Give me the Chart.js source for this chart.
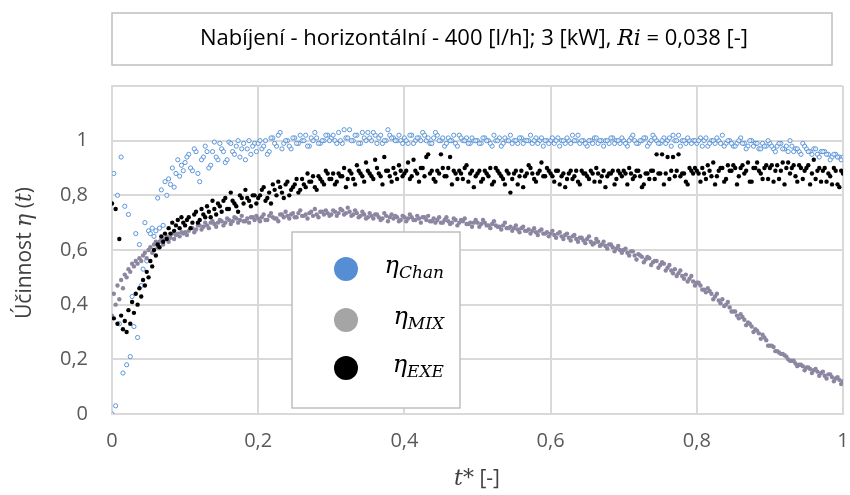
<!DOCTYPE html>
<html>
<head>
<meta charset="utf-8">
<script src="https://cdn.jsdelivr.net/npm/chart.js@4.4.1/dist/chart.umd.min.js"></script>
<style>
  body { margin: 0; background: #fff; }
</style>
</head>
<body>
<canvas id="chart" width="850" height="495"></canvas>
<script>
// t* values (finer step at the start where the data jumps around)
const tStar = [
  0, 0.0025, 0.005, 0.0075, 0.01, 0.0125, 0.015, 0.0175, 0.02, 0.0225,
  0.025, 0.0275, 0.03, 0.0325, 0.035, 0.0375, 0.04, 0.0425, 0.045, 0.0475,
  0.05, 0.0525, 0.055, 0.0575, 0.06, 0.0625, 0.065, 0.0675, 0.07, 0.0725,
  0.075, 0.0775, 0.08, 0.0825, 0.085, 0.0875, 0.09, 0.0925, 0.095, 0.0975,
  0.1, 0.105, 0.11, 0.115, 0.12, 0.125, 0.13, 0.135, 0.14, 0.145,
  0.15, 0.155, 0.16, 0.165, 0.17, 0.175, 0.18, 0.185, 0.19, 0.195,
  0.2, 0.205, 0.21, 0.215, 0.22, 0.225, 0.23, 0.235, 0.24, 0.245,
  0.25, 0.255, 0.26, 0.265, 0.27, 0.275, 0.28, 0.285, 0.29, 0.295,
  0.3, 0.305, 0.31, 0.315, 0.32, 0.325, 0.33, 0.335, 0.34, 0.345,
  0.35, 0.355, 0.36, 0.365, 0.37, 0.375, 0.38, 0.385, 0.39, 0.395,
  0.4, 0.405, 0.41, 0.415, 0.42, 0.425, 0.43, 0.435, 0.44, 0.445,
  0.45, 0.455, 0.46, 0.465, 0.47, 0.475, 0.48, 0.485, 0.49, 0.495,
  0.5, 0.505, 0.51, 0.515, 0.52, 0.525, 0.53, 0.535, 0.54, 0.545,
  0.55, 0.555, 0.56, 0.565, 0.57, 0.575, 0.58, 0.585, 0.59, 0.595,
  0.6, 0.605, 0.61, 0.615, 0.62, 0.625, 0.63, 0.635, 0.64, 0.645,
  0.65, 0.655, 0.66, 0.665, 0.67, 0.675, 0.68, 0.685, 0.69, 0.695,
  0.7, 0.705, 0.71, 0.715, 0.72, 0.725, 0.73, 0.735, 0.74, 0.745,
  0.75, 0.755, 0.76, 0.765, 0.77, 0.775, 0.78, 0.785, 0.79, 0.795,
  0.8, 0.805, 0.81, 0.815, 0.82, 0.825, 0.83, 0.835, 0.84, 0.845,
  0.85, 0.855, 0.86, 0.865, 0.87, 0.875, 0.88, 0.885, 0.89, 0.895,
  0.9, 0.905, 0.91, 0.915, 0.92, 0.925, 0.93, 0.935, 0.94, 0.945,
  0.95, 0.955, 0.96, 0.965, 0.97, 0.975, 0.98, 0.985, 0.99, 0.995, 1.0
];

const etaChan = [
  0.00, 0.88, 0.03, 0.80, 0.33, 0.94, 0.15, 0.76, 0.18, 0.73,
  0.21, 0.43, 0.32, 0.66, 0.28, 0.62, 0.47, 0.53, 0.70, 0.56,
  0.67, 0.66, 0.68, 0.65, 0.67, 0.79, 0.68, 0.82, 0.69, 0.85,
  0.80, 0.86, 0.84, 0.90, 0.83, 0.88, 0.93, 0.87, 0.91, 0.89,
  0.92, 0.95, 0.89, 0.96, 0.85, 0.94, 0.96, 0.91, 0.995, 0.93,
  0.97, 0.92, 0.995, 0.96, 0.98, 0.94, 0.99, 0.97, 0.95, 0.99,
  0.99, 0.97, 1.0, 0.96, 1.01, 0.98, 1.03, 0.99, 1.0, 0.97,
  1.01, 0.99, 1.0, 1.02, 0.98, 1.0, 1.01, 0.99, 1.0, 1.02,
  1.01, 1.0, 1.03, 0.99, 1.01, 1.04, 1.0, 1.02, 0.99, 1.01,
  1.03, 1.0, 1.02, 1.01, 0.99, 1.0, 1.02, 1.01, 1.0, 1.0,
  1.01, 0.99, 1.02, 1.0, 1.01, 1.03, 1.0, 0.99, 1.01, 1.02,
  1.0, 0.98, 1.01, 1.0, 0.99, 1.02, 1.0, 1.01, 0.99, 1.0,
  1.0, 0.99, 1.01, 1.0, 0.98, 1.0, 1.01, 0.99, 1.0, 1.02,
  1.0, 0.99, 1.01, 1.0, 1.0, 0.99, 1.01, 1.0, 0.98, 1.0,
  1.0, 0.99, 1.01, 1.0, 0.99, 1.0, 1.02, 1.0, 0.99, 1.0,
  0.98, 1.0, 1.01, 0.99, 1.0, 1.0, 0.99, 1.01, 1.0, 0.99,
  1.0, 0.98, 1.01, 1.0, 0.99, 1.0, 1.01, 0.99, 1.02, 1.0,
  0.99, 1.01, 1.0, 0.98, 1.0, 1.02, 1.0, 0.99, 1.0, 1.0,
  0.99, 1.01, 1.0, 0.98, 1.0, 0.99, 1.0, 1.02, 0.99, 1.0,
  0.98, 0.99, 1.01, 0.99, 0.98, 1.0, 0.99, 0.97, 0.99, 0.98,
  0.99, 0.97, 0.98, 0.99, 0.97, 0.96, 0.98, 0.97, 0.96, 0.99,
  0.97, 0.96, 0.97, 0.95, 0.96, 0.96, 0.95, 0.94, 0.95, 0.94, 0.94
];

const etaMix = [
  0.36, 0.44, 0.40, 0.47, 0.42, 0.49, 0.46, 0.51, 0.50, 0.53,
  0.52, 0.55, 0.54, 0.56, 0.55, 0.57, 0.56, 0.58, 0.59, 0.57,
  0.60, 0.61, 0.59, 0.62, 0.63, 0.61, 0.63, 0.64, 0.62, 0.64,
  0.65, 0.63, 0.645, 0.66, 0.64, 0.655, 0.66, 0.65, 0.665, 0.66,
  0.665, 0.67, 0.68, 0.675, 0.69, 0.685, 0.69, 0.70, 0.695, 0.70,
  0.705, 0.70, 0.71, 0.705, 0.715, 0.71, 0.705, 0.715, 0.72, 0.71,
  0.715, 0.72, 0.71, 0.725, 0.72, 0.715, 0.73, 0.72, 0.725, 0.73,
  0.72, 0.735, 0.725, 0.73, 0.735, 0.725, 0.73, 0.74, 0.73, 0.735,
  0.73, 0.74, 0.735, 0.745, 0.735, 0.74, 0.73, 0.735, 0.725, 0.73,
  0.72, 0.725, 0.73, 0.72, 0.715, 0.725, 0.72, 0.715, 0.72, 0.71,
  0.72, 0.715, 0.72, 0.71, 0.715, 0.72, 0.71, 0.705, 0.715, 0.71,
  0.70, 0.71, 0.705, 0.70, 0.71, 0.70, 0.705, 0.695, 0.70, 0.70,
  0.70, 0.695, 0.70, 0.69, 0.695, 0.69, 0.685, 0.69, 0.68, 0.685,
  0.68, 0.675, 0.68, 0.67, 0.675, 0.67, 0.665, 0.67, 0.66, 0.665,
  0.66, 0.655, 0.66, 0.65, 0.655, 0.645, 0.65, 0.64, 0.645, 0.635,
  0.64, 0.63, 0.625, 0.63, 0.62, 0.615, 0.62, 0.61, 0.605, 0.60,
  0.60, 0.59, 0.595, 0.58, 0.585, 0.575, 0.565, 0.57, 0.555, 0.56,
  0.545, 0.55, 0.535, 0.525, 0.53, 0.515, 0.505, 0.51, 0.495, 0.485,
  0.48, 0.47, 0.455, 0.46, 0.44, 0.43, 0.415, 0.42, 0.40, 0.39,
  0.375, 0.36, 0.365, 0.345, 0.335, 0.32, 0.31, 0.295, 0.29, 0.27,
  0.25, 0.245, 0.23, 0.22, 0.215, 0.20, 0.195, 0.185, 0.18, 0.175,
  0.17, 0.165, 0.16, 0.155, 0.15, 0.14, 0.145, 0.135, 0.13, 0.125, 0.12
];

const etaExe = [
  0.77, 0.35, 0.75, 0.33, 0.64, 0.36, 0.31, 0.34, 0.30, 0.38,
  0.33, 0.41, 0.37, 0.44, 0.40, 0.46, 0.43, 0.49, 0.47, 0.52,
  0.50, 0.56, 0.54, 0.60, 0.58, 0.62, 0.61, 0.65, 0.63, 0.66,
  0.64, 0.68, 0.66, 0.70, 0.67, 0.69, 0.71, 0.68, 0.72, 0.70,
  0.69, 0.72, 0.70, 0.74, 0.71, 0.73, 0.76, 0.72, 0.75, 0.77,
  0.74, 0.79, 0.75, 0.78, 0.76, 0.80, 0.77, 0.79, 0.76, 0.80,
  0.79, 0.82, 0.78, 0.81, 0.84, 0.80, 0.83, 0.79, 0.85, 0.82,
  0.84, 0.81, 0.86, 0.83, 0.85, 0.87, 0.82, 0.86, 0.84, 0.88,
  0.86, 0.84, 0.88, 0.87, 0.83, 0.89, 0.86, 0.91, 0.88, 0.85,
  0.89, 0.87, 0.93, 0.88, 0.84, 0.89, 0.87, 0.90, 0.86, 0.89,
  0.88, 0.92, 0.87, 0.89, 0.85, 0.90, 0.94, 0.88, 0.86, 0.89,
  0.95, 0.87, 0.90, 0.84, 0.88, 0.89, 0.86, 0.91, 0.88, 0.83,
  0.88, 0.85, 0.89, 0.87, 0.84, 0.90, 0.88, 0.86, 0.89, 0.81,
  0.88, 0.84, 0.89, 0.87, 0.91, 0.88, 0.85, 0.89, 0.87, 0.90,
  0.88, 0.85, 0.89, 0.87, 0.83, 0.88, 0.86, 0.89, 0.84, 0.88,
  0.87, 0.89, 0.85, 0.88, 0.87, 0.83, 0.88, 0.89, 0.86, 0.88,
  0.89, 0.84, 0.88, 0.87, 0.89, 0.83, 0.88, 0.86, 0.89, 0.95,
  0.88, 0.84, 0.94, 0.89, 0.87, 0.95, 0.88, 0.85, 0.90, 0.88,
  0.89, 0.85, 0.88, 0.91, 0.87, 0.84, 0.89, 0.90, 0.86, 0.89,
  0.91, 0.84, 0.90, 0.88, 0.92, 0.85, 0.90, 0.89, 0.86, 0.91,
  0.90, 0.85, 0.91, 0.89, 0.84, 0.92, 0.90, 0.87, 0.91, 0.86,
  0.90, 0.84, 0.93, 0.89, 0.85, 0.90, 0.88, 0.84, 0.89, 0.83, 0.88
];

// second pass of readings, between the t* values above
const tStarB = [
  0.1025, 0.1075, 0.1125, 0.1175, 0.1225, 0.1275, 0.1325, 0.1375, 0.1425, 0.1475,
  0.1525, 0.1575, 0.1625, 0.1675, 0.1725, 0.1775, 0.1825, 0.1875, 0.1925, 0.1975,
  0.2025, 0.2075, 0.2125, 0.2175, 0.2225, 0.2275, 0.2325, 0.2375, 0.2425, 0.2475,
  0.2525, 0.2575, 0.2625, 0.2675, 0.2725, 0.2775, 0.2825, 0.2875, 0.2925, 0.2975,
  0.3025, 0.3075, 0.3125, 0.3175, 0.3225, 0.3275, 0.3325, 0.3375, 0.3425, 0.3475,
  0.3525, 0.3575, 0.3625, 0.3675, 0.3725, 0.3775, 0.3825, 0.3875, 0.3925, 0.3975,
  0.4025, 0.4075, 0.4125, 0.4175, 0.4225, 0.4275, 0.4325, 0.4375, 0.4425, 0.4475,
  0.4525, 0.4575, 0.4625, 0.4675, 0.4725, 0.4775, 0.4825, 0.4875, 0.4925, 0.4975,
  0.5025, 0.5075, 0.5125, 0.5175, 0.5225, 0.5275, 0.5325, 0.5375, 0.5425, 0.5475,
  0.5525, 0.5575, 0.5625, 0.5675, 0.5725, 0.5775, 0.5825, 0.5875, 0.5925, 0.5975,
  0.6025, 0.6075, 0.6125, 0.6175, 0.6225, 0.6275, 0.6325, 0.6375, 0.6425, 0.6475,
  0.6525, 0.6575, 0.6625, 0.6675, 0.6725, 0.6775, 0.6825, 0.6875, 0.6925, 0.6975,
  0.7025, 0.7075, 0.7125, 0.7175, 0.7225, 0.7275, 0.7325, 0.7375, 0.7425, 0.7475,
  0.7525, 0.7575, 0.7625, 0.7675, 0.7725, 0.7775, 0.7825, 0.7875, 0.7925, 0.7975,
  0.8025, 0.8075, 0.8125, 0.8175, 0.8225, 0.8275, 0.8325, 0.8375, 0.8425, 0.8475,
  0.8525, 0.8575, 0.8625, 0.8675, 0.8725, 0.8775, 0.8825, 0.8875, 0.8925, 0.8975,
  0.9025, 0.9075, 0.9125, 0.9175, 0.9225, 0.9275, 0.9325, 0.9375, 0.9425, 0.9475,
  0.9525, 0.9575, 0.9625, 0.9675, 0.9725, 0.9775, 0.9825, 0.9875, 0.9925, 0.9975
];

const etaChanB = [
  0.94, 0.90, 0.97, 0.88, 0.93, 0.98, 0.90, 0.96, 0.94, 0.99,
  0.96, 0.93, 0.99, 0.95, 1.0, 0.97, 0.93, 1.0, 0.98, 0.96,
  1.0, 0.98, 0.95, 1.01, 0.99, 1.02, 0.97, 1.0, 0.98, 1.01,
  0.99, 1.02, 1.0, 0.98, 1.01, 1.03, 0.99, 1.0, 1.02, 1.0,
  1.02, 0.99, 1.0, 1.04, 1.01, 1.0, 1.02, 0.99, 1.03, 1.0,
  1.01, 1.03, 0.99, 1.02, 1.0, 1.04, 1.01, 1.0, 1.02, 0.99,
  1.0, 1.02, 0.99, 1.01, 1.0, 1.02, 1.01, 0.99, 1.03, 1.0,
  1.01, 0.99, 1.0, 1.02, 0.98, 1.01, 1.0, 0.99, 1.01, 1.0,
  0.99, 1.01, 1.0, 0.99, 1.02, 1.0, 0.98, 1.01, 1.0, 0.99,
  1.0, 1.01, 0.99, 1.0, 1.02, 1.0, 0.99, 1.01, 1.0, 0.99,
  1.01, 1.0, 0.98, 1.0, 1.01, 0.99, 1.0, 1.02, 1.0, 0.99,
  1.0, 0.99, 1.01, 1.0, 0.98, 1.0, 1.01, 0.99, 1.0, 1.01,
  0.99, 1.0, 1.02, 0.99, 1.0, 1.01, 0.98, 1.0, 1.01, 0.99,
  1.0, 0.99, 1.01, 1.02, 1.0, 0.98, 1.0, 1.01, 0.99, 1.0,
  1.0, 0.98, 1.01, 0.99, 1.0, 1.01, 0.99, 0.98, 1.0, 0.99,
  0.98, 1.0, 0.99, 0.97, 1.0, 0.98, 0.99, 0.97, 0.98, 1.0,
  0.98, 0.96, 0.99, 0.97, 0.98, 1.0, 0.96, 0.97, 0.95, 0.98,
  0.96, 0.95, 0.97, 0.94, 0.96, 0.95, 0.93, 0.95, 0.94, 0.93
];

const etaMixB = [
  0.655, 0.68, 0.665, 0.69, 0.675, 0.70, 0.68, 0.705, 0.685, 0.71,
  0.69, 0.715, 0.695, 0.72, 0.70, 0.725, 0.705, 0.70, 0.72, 0.725,
  0.705, 0.73, 0.71, 0.735, 0.715, 0.705, 0.73, 0.74, 0.715, 0.735,
  0.72, 0.745, 0.725, 0.715, 0.74, 0.75, 0.72, 0.74, 0.745, 0.725,
  0.745, 0.725, 0.75, 0.73, 0.755, 0.725, 0.745, 0.72, 0.74, 0.715,
  0.735, 0.715, 0.73, 0.71, 0.735, 0.705, 0.73, 0.725, 0.705, 0.725,
  0.705, 0.73, 0.71, 0.725, 0.70, 0.72, 0.725, 0.705, 0.70, 0.72,
  0.70, 0.72, 0.695, 0.715, 0.69, 0.71, 0.715, 0.695, 0.685, 0.71,
  0.685, 0.71, 0.69, 0.68, 0.705, 0.685, 0.675, 0.70, 0.68, 0.67,
  0.69, 0.665, 0.685, 0.67, 0.66, 0.68, 0.655, 0.675, 0.66, 0.65,
  0.67, 0.645, 0.665, 0.64, 0.66, 0.635, 0.655, 0.63, 0.645, 0.625,
  0.65, 0.62, 0.64, 0.615, 0.63, 0.605, 0.62, 0.595, 0.615, 0.59,
  0.605, 0.58, 0.595, 0.565, 0.58, 0.555, 0.575, 0.545, 0.56, 0.535,
  0.555, 0.525, 0.545, 0.515, 0.505, 0.525, 0.495, 0.485, 0.505, 0.47,
  0.48, 0.455, 0.445, 0.45, 0.42, 0.44, 0.405, 0.395, 0.41, 0.375,
  0.375, 0.35, 0.355, 0.325, 0.33, 0.30, 0.305, 0.275, 0.28, 0.25,
  0.25, 0.23, 0.225, 0.22, 0.21, 0.195, 0.195, 0.175, 0.18, 0.16,
  0.17, 0.15, 0.165, 0.14, 0.155, 0.13, 0.145, 0.12, 0.135, 0.11
];

const etaExeB = [
  0.71, 0.68, 0.73, 0.70, 0.75, 0.72, 0.74, 0.78, 0.73, 0.76,
  0.78, 0.75, 0.81, 0.77, 0.74, 0.79, 0.82, 0.78, 0.80, 0.77,
  0.80, 0.83, 0.79, 0.77, 0.82, 0.85, 0.81, 0.84, 0.80, 0.83,
  0.86, 0.82, 0.84, 0.88, 0.85, 0.83, 0.87, 0.85, 0.89, 0.86,
  0.88, 0.85, 0.87, 0.90, 0.86, 0.88, 0.84, 0.89, 0.87, 0.92,
  0.88, 0.86, 0.90, 0.87, 0.94, 0.89, 0.85, 0.88, 0.91, 0.87,
  0.89, 0.86, 0.93, 0.88, 0.90, 0.87, 0.95, 0.89, 0.85, 0.88,
  0.90, 0.87, 0.94, 0.89, 0.86, 0.88, 0.90, 0.85, 0.89, 0.87,
  0.89, 0.86, 0.88, 0.90, 0.85, 0.89, 0.87, 0.84, 0.88, 0.86,
  0.89, 0.87, 0.83, 0.88, 0.90, 0.86, 0.88, 0.92, 0.87, 0.89,
  0.87, 0.89, 0.84, 0.88, 0.86, 0.89, 0.87, 0.85, 0.89, 0.88,
  0.86, 0.88, 0.90, 0.85, 0.89, 0.87, 0.88, 0.84, 0.89, 0.87,
  0.88, 0.90, 0.86, 0.89, 0.87, 0.84, 0.88, 0.89, 0.86, 0.88,
  0.95, 0.88, 0.86, 0.94, 0.89, 0.87, 0.88, 0.84, 0.89, 0.90,
  0.88, 0.90, 0.86, 0.89, 0.92, 0.87, 0.90, 0.85, 0.91, 0.89,
  0.90, 0.87, 0.91, 0.89, 0.85, 0.90, 0.92, 0.88, 0.90, 0.86,
  0.91, 0.89, 0.86, 0.92, 0.90, 0.88, 0.91, 0.85, 0.90, 0.89,
  0.91, 0.88, 0.86, 0.90, 0.89, 0.85, 0.87, 0.90, 0.84, 0.89
];

const seriesNames = ["Chan", "MIX", "EXE"];
const xTicks = [0, 0.2, 0.4, 0.6, 0.8, 1];
const yTicks = [0, 0.2, 0.4, 0.6, 0.8, 1];

const toPoints = (ts, ys) => ys.map((y, i) => ({ x: ts[i], y: y }));
const fmt = (v) => String(Math.round(v * 10) / 10).replace(".", ",");

const sansFont = "'Open Sans', 'Noto Sans', sans-serif";
const serifFont = "'DejaVu Serif', 'Liberation Serif', serif";

// draw a line of text made of differently styled pieces
function drawParts(ctx, parts, x, y, align) {
  let total = 0;
  parts.forEach((p) => {
    ctx.font = p.font;
    p.w = ctx.measureText(p.text).width;
    total += p.w;
  });
  let cx = align === "center" ? x - total / 2 : align === "right" ? x - total : x;
  ctx.textAlign = "left";
  parts.forEach((p) => {
    ctx.font = p.font;
    ctx.fillText(p.text, cx, y + (p.dy || 0));
    cx += p.w;
  });
  return total;
}

const decorations = {
  id: "decorations",
  afterDraw(chart) {
    const ctx = chart.ctx;
    ctx.save();
    ctx.textBaseline = "middle";

    // title box
    ctx.fillStyle = "#fff";
    ctx.strokeStyle = "#bfbfbf";
    ctx.lineWidth = 1.5;
    ctx.fillRect(112, 13, 720, 52);
    ctx.strokeRect(112, 13, 720, 52);
    ctx.fillStyle = "#000";
    drawParts(ctx, [
      { text: "Nabíjení - horizontální - 400 [l/h]; 3 [kW], ", font: "22px " + sansFont },
      { text: "Ri", font: "italic 22px " + serifFont },
      { text: " = 0,038 [-]", font: "22px " + sansFont }
    ], 474, 39, "center");

    // legend box
    ctx.fillStyle = "#fff";
    ctx.fillRect(292, 232, 168, 176);
    ctx.strokeRect(292, 232, 168, 176);
    const legendColors = ["#558ed5", "#a5a5a5", "#000000"];
    const legendY = [269, 320, 368];
    seriesNames.forEach((name, i) => {
      ctx.fillStyle = legendColors[i];
      ctx.beginPath();
      ctx.arc(346, legendY[i], 12, 0, Math.PI * 2);
      ctx.fill();
      ctx.fillStyle = "#000";
      drawParts(ctx, [
        { text: "η", font: "italic 24px " + serifFont },
        { text: name, font: "italic 17px " + serifFont, dy: 7 }
      ], 444, legendY[i] - 2, "right");
    });

    // axis titles
    ctx.fillStyle = "#404040";
    drawParts(ctx, [
      { text: "t*", font: "italic 22px " + serifFont },
      { text: " [-]", font: "21px " + sansFont }
    ], 477, 479, "center");

    ctx.translate(25, 253);
    ctx.rotate(-Math.PI / 2);
    drawParts(ctx, [
      { text: "Účinnost ", font: "21px " + sansFont },
      { text: "η", font: "italic 22px " + serifFont },
      { text: " (", font: "21px " + sansFont },
      { text: "t", font: "italic 22px " + serifFont },
      { text: ")", font: "21px " + sansFont }
    ], 0, 0, "center");
    ctx.restore();
  }
};

new Chart(document.getElementById("chart"), {
  type: "scatter",
  data: {
    datasets: [
      {
        label: seriesNames[0],
        data: toPoints(tStar, etaChan).concat(toPoints(tStarB, etaChanB)),
        pointRadius: 2.1,
        borderWidth: 1,
        borderColor: "#5b95d8",
        backgroundColor: "rgba(255,255,255,0.6)",
        order: 3
      },
      {
        label: seriesNames[1],
        data: toPoints(tStar, etaMix).concat(toPoints(tStarB, etaMixB)),
        pointRadius: 2.2,
        borderWidth: 0,
        backgroundColor: "#8d86a1",
        order: 2
      },
      {
        label: seriesNames[2],
        data: toPoints(tStar, etaExe).concat(toPoints(tStarB, etaExeB)),
        pointRadius: 2.2,
        borderWidth: 0,
        backgroundColor: "#000",
        order: 1
      }
    ]
  },
  options: {
    responsive: false,
    animation: false,
    layout: { padding: { top: 86, right: 7, left: 0, bottom: 0 } },
    plugins: {
      legend: { display: false },
      title: { display: false },
      tooltip: { enabled: false }
    },
    scales: {
      x: {
        type: "linear",
        min: 0,
        max: 1,
        afterBuildTicks: (s) => { s.ticks = xTicks.map((v) => ({ value: v })); },
        afterFit: (s) => { s.height = 81; s.paddingLeft = 0; s.paddingRight = 0; },
        ticks: {
          callback: (v) => fmt(v),
          color: "#595959",
          font: { family: sansFont, size: 20 },
          padding: 15,
          maxRotation: 0
        },
        grid: { color: "#d9d9d9", lineWidth: 2, drawTicks: false },
        border: { color: "#d9d9d9", width: 2 }
      },
      y: {
        min: 0,
        max: 1.2,
        afterBuildTicks: (s) => { s.ticks = yTicks.concat([1.2]).map((v) => ({ value: v })); },
        afterFit: (s) => { s.width = 112; s.paddingTop = 0; s.paddingBottom = 0; },
        ticks: {
          callback: (v) => (v > 1.1 ? "" : fmt(v)),
          color: "#595959",
          font: { family: sansFont, size: 20 },
          padding: 24
        },
        grid: { color: "#d9d9d9", lineWidth: 2, drawTicks: false },
        border: { color: "#d9d9d9", width: 2 }
      }
    }
  },
  plugins: [decorations]
});
</script>
</body>
</html>
